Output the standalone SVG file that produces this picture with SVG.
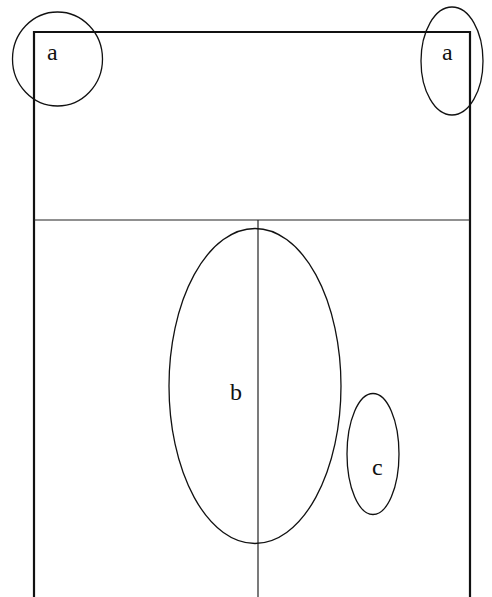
<svg xmlns="http://www.w3.org/2000/svg" width="492" height="597" viewBox="0 0 492 597">
<style>
.frame{fill:none;stroke:#111;stroke-width:2.2}
.line{fill:none;stroke:#222;stroke-width:1.2}
.ell{fill:none;stroke:#111;stroke-width:1.3}
.lbl{font-family:"Liberation Serif",serif;font-size:24px;fill:#111}
</style>
<rect width="492" height="597" fill="#fff"/>
<g id="connectors">
<path class="frame" d="M34,600 V32 H470 V600"/>
<line class="line" x1="34" y1="220" x2="470" y2="220"/>
<line class="line" x1="258" y1="220" x2="258" y2="597"/>
</g>
<g id="node-a-left">
<ellipse class="ell" cx="57.5" cy="59" rx="45" ry="47"/>
<text class="lbl" x="47" y="60">a</text>
</g>
<g id="node-a-right">
<ellipse class="ell" cx="452" cy="61" rx="31" ry="54"/>
<text class="lbl" x="442" y="60">a</text>
</g>
<g id="node-b">
<ellipse class="ell" cx="255" cy="386" rx="86" ry="157.5"/>
<text class="lbl" x="230" y="400">b</text>
</g>
<g id="node-c">
<ellipse class="ell" cx="373" cy="454" rx="26" ry="60.5"/>
<text class="lbl" x="372" y="475">c</text>
</g>
</svg>
